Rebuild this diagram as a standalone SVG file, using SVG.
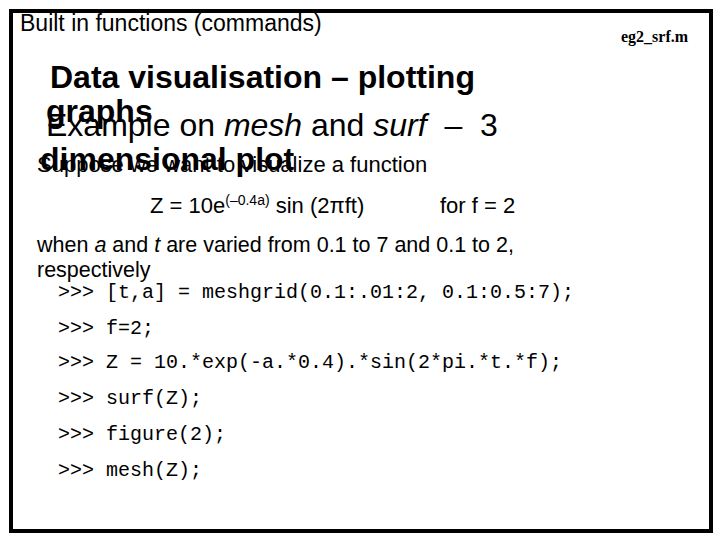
<svg xmlns="http://www.w3.org/2000/svg" width="720" height="540" viewBox="0 0 720 540">
<style>
.s{font-family:"Liberation Sans",Arial,sans-serif;fill:#000}
.m{font-family:"Liberation Mono","Courier New",monospace;font-size:20px;fill:#000}
.h{font-size:32px}
</style>
<rect width="720" height="540" fill="#fff"/>
<rect x="11" y="11" width="700" height="520" fill="none" stroke="#000" stroke-width="4"/>
<text class="s" x="20" y="31" font-size="23">Built in functions (commands)</text>
<text x="621" y="42" font-family="Liberation Serif,serif" font-weight="bold" font-size="16">eg2_srf.m</text>
<text class="s h" x="50" y="88" font-weight="bold">Data visualisation – plotting</text>
<text class="s h" x="46" y="122" font-weight="bold">graphs</text>
<text class="s h" x="46" y="136" xml:space="preserve">Example on <tspan font-style="italic">mesh</tspan> and <tspan font-style="italic">surf</tspan>  –  3</text>
<text class="s h" x="40" y="170" font-weight="bold">dimensional plot</text>
<text class="s" x="37" y="172" font-size="22">Suppose we want to visualize a function</text>
<text class="s" x="150" y="213" font-size="22">Z = 10e<tspan font-size="14" dy="-8">(–0.4a)</tspan><tspan dy="8"> sin (2πft)</tspan></text>
<text class="s" x="440" y="213" font-size="22">for f = 2</text>
<text class="s" x="37" y="252" font-size="21.5">when <tspan font-style="italic">a</tspan> and <tspan font-style="italic">t</tspan> are varied from 0.1 to 7 and 0.1 to 2,</text>
<text class="s" x="37" y="277" font-size="21.5">respectively</text>
<text class="m" x="58" y="298">&gt;&gt;&gt; [t,a] = meshgrid(0.1:.01:2, 0.1:0.5:7);</text>
<text class="m" x="58" y="334">&gt;&gt;&gt; f=2;</text>
<text class="m" x="58" y="368">&gt;&gt;&gt; Z = 10.*exp(-a.*0.4).*sin(2*pi.*t.*f);</text>
<text class="m" x="58" y="404">&gt;&gt;&gt; surf(Z);</text>
<text class="m" x="58" y="440">&gt;&gt;&gt; figure(2);</text>
<text class="m" x="58" y="476">&gt;&gt;&gt; mesh(Z);</text>
</svg>
